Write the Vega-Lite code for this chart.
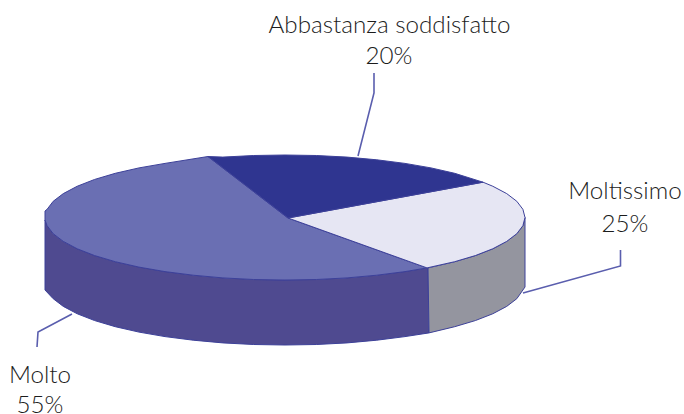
{"$schema":"https://vega.github.io/schema/vega-lite/v6.json","width":684,"height":414,"padding":0,"autosize":"none","background":"white","view":{"stroke":null},
"datasets":{
"shapes":[
{"part":"wall Molto","i":1,"x":45,"y":220},{"part":"wall Molto","i":2,"x":47.1,"y":225.7},{"part":"wall Molto","i":3,"x":53.2,"y":233.7},{"part":"wall Molto","i":4,"x":63.3,"y":241.4},{"part":"wall Molto","i":5,"x":77.2,"y":248.75},{"part":"wall Molto","i":6,"x":94.6,"y":255.55},{"part":"wall Molto","i":7,"x":115.3,"y":261.7},{"part":"wall Molto","i":8,"x":139,"y":267.1},{"part":"wall Molto","i":9,"x":165,"y":271.6},{"part":"wall Molto","i":10,"x":193.2,"y":275.2},{"part":"wall Molto","i":11,"x":222.9,"y":277.9},{"part":"wall Molto","i":12,"x":253.7,"y":279.5},{"part":"wall Molto","i":13,"x":285,"y":280},{"part":"wall Molto","i":14,"x":316.3,"y":279.5},{"part":"wall Molto","i":15,"x":347.1,"y":277.9},{"part":"wall Molto","i":16,"x":376.8,"y":275.2},{"part":"wall Molto","i":17,"x":405,"y":271.6},{"part":"wall Molto","i":18,"x":428,"y":267.9},
{"part":"wall Molto","i":19,"x":429,"y":332.9},{"part":"wall Molto","i":20,"x":405,"y":336.6},{"part":"wall Molto","i":21,"x":376.8,"y":340.2},{"part":"wall Molto","i":22,"x":347.1,"y":342.9},{"part":"wall Molto","i":23,"x":316.3,"y":344.5},{"part":"wall Molto","i":24,"x":285,"y":345},{"part":"wall Molto","i":25,"x":253.7,"y":344.5},{"part":"wall Molto","i":26,"x":222.9,"y":342.9},{"part":"wall Molto","i":27,"x":193.2,"y":340.2},{"part":"wall Molto","i":28,"x":165,"y":336.6},{"part":"wall Molto","i":29,"x":139,"y":332.1},{"part":"wall Molto","i":30,"x":115.3,"y":326.7},{"part":"wall Molto","i":31,"x":94.6,"y":320.55},{"part":"wall Molto","i":32,"x":77.2,"y":313.75},{"part":"wall Molto","i":33,"x":63.3,"y":306.4},{"part":"wall Molto","i":34,"x":53.2,"y":298.7},{"part":"wall Molto","i":35,"x":45,"y":290},
{"part":"wall Moltissimo","i":1,"x":428,"y":267.9},{"part":"wall Moltissimo","i":2,"x":454.7,"y":261.7},{"part":"wall Moltissimo","i":3,"x":475.4,"y":255.55},{"part":"wall Moltissimo","i":4,"x":492.8,"y":248.75},{"part":"wall Moltissimo","i":5,"x":506.7,"y":241.4},{"part":"wall Moltissimo","i":6,"x":516.8,"y":233.7},{"part":"wall Moltissimo","i":7,"x":522.9,"y":225.7},{"part":"wall Moltissimo","i":8,"x":525,"y":217.5},{"part":"wall Moltissimo","i":9,"x":525,"y":287},{"part":"wall Moltissimo","i":10,"x":516.8,"y":298.7},{"part":"wall Moltissimo","i":11,"x":506.7,"y":306.4},{"part":"wall Moltissimo","i":12,"x":492.8,"y":313.75},{"part":"wall Moltissimo","i":13,"x":475.4,"y":320.55},{"part":"wall Moltissimo","i":14,"x":454.7,"y":326.7},{"part":"wall Moltissimo","i":15,"x":429,"y":332.9},
{"part":"top Molto","i":1,"x":288,"y":218},{"part":"top Molto","i":2,"x":427,"y":267.9},{"part":"top Molto","i":3,"x":405,"y":271.6},{"part":"top Molto","i":4,"x":376.8,"y":275.2},{"part":"top Molto","i":5,"x":347.1,"y":277.9},{"part":"top Molto","i":6,"x":316.3,"y":279.5},{"part":"top Molto","i":7,"x":285,"y":280},{"part":"top Molto","i":8,"x":253.7,"y":279.5},{"part":"top Molto","i":9,"x":222.9,"y":277.9},{"part":"top Molto","i":10,"x":193.2,"y":275.2},{"part":"top Molto","i":11,"x":165,"y":271.6},{"part":"top Molto","i":12,"x":139,"y":267.1},{"part":"top Molto","i":13,"x":115.3,"y":261.7},{"part":"top Molto","i":14,"x":94.6,"y":255.55},{"part":"top Molto","i":15,"x":77.2,"y":248.75},{"part":"top Molto","i":16,"x":63.3,"y":241.4},{"part":"top Molto","i":17,"x":53.2,"y":233.7},{"part":"top Molto","i":18,"x":47.1,"y":225.7},{"part":"top Molto","i":19,"x":45,"y":220},{"part":"top Molto","i":20,"x":45,"y":211},{"part":"top Molto","i":21,"x":47.1,"y":209.3},{"part":"top Molto","i":22,"x":53.2,"y":201.3},{"part":"top Molto","i":23,"x":63.3,"y":193.6},{"part":"top Molto","i":24,"x":77.2,"y":186.25},{"part":"top Molto","i":25,"x":94.6,"y":179.45},{"part":"top Molto","i":26,"x":115.3,"y":173.3},{"part":"top Molto","i":27,"x":139,"y":167.9},{"part":"top Molto","i":28,"x":165,"y":163.4},{"part":"top Molto","i":29,"x":208,"y":156.5},
{"part":"top Moltissimo","i":1,"x":288,"y":218},{"part":"top Moltissimo","i":2,"x":483,"y":182.2},{"part":"top Moltissimo","i":3,"x":492.8,"y":186.25},{"part":"top Moltissimo","i":4,"x":506.7,"y":193.6},{"part":"top Moltissimo","i":5,"x":516.8,"y":201.3},{"part":"top Moltissimo","i":6,"x":522.9,"y":209.3},{"part":"top Moltissimo","i":7,"x":525,"y":217.5},{"part":"top Moltissimo","i":8,"x":522.9,"y":225.7},{"part":"top Moltissimo","i":9,"x":516.8,"y":233.7},{"part":"top Moltissimo","i":10,"x":506.7,"y":241.4},{"part":"top Moltissimo","i":11,"x":492.8,"y":248.75},{"part":"top Moltissimo","i":12,"x":475.4,"y":255.55},{"part":"top Moltissimo","i":13,"x":454.7,"y":261.7},{"part":"top Moltissimo","i":14,"x":427,"y":267.9},
{"part":"top Abbastanza","i":1,"x":288,"y":218},{"part":"top Abbastanza","i":2,"x":208,"y":156.5},{"part":"top Abbastanza","i":3,"x":222.9,"y":157.1},{"part":"top Abbastanza","i":4,"x":253.7,"y":155.5},{"part":"top Abbastanza","i":5,"x":285,"y":155},{"part":"top Abbastanza","i":6,"x":316.3,"y":155.5},{"part":"top Abbastanza","i":7,"x":347.1,"y":157.1},{"part":"top Abbastanza","i":8,"x":376.8,"y":159.8},{"part":"top Abbastanza","i":9,"x":405,"y":163.4},{"part":"top Abbastanza","i":10,"x":431,"y":167.9},{"part":"top Abbastanza","i":11,"x":454.7,"y":173.3},{"part":"top Abbastanza","i":12,"x":483,"y":182.2}
],
"leaders":[
{"name":"Abbastanza","i":1,"x":374,"y":73},{"name":"Abbastanza","i":2,"x":374,"y":93},{"name":"Abbastanza","i":3,"x":358,"y":156},
{"name":"Moltissimo","i":1,"x":620.5,"y":250},{"name":"Moltissimo","i":2,"x":620.5,"y":266},{"name":"Moltissimo","i":3,"x":523,"y":293},
{"name":"Molto","i":1,"x":37,"y":347},{"name":"Molto","i":2,"x":38,"y":332},{"name":"Molto","i":3,"x":72,"y":314}
],
"labels":[
{"text":"Abbastanza soddisfatto","x":389.5,"y":33},{"text":"20%","x":389,"y":64},
{"text":"Moltissimo","x":625,"y":199},{"text":"25%","x":625,"y":232},
{"text":"Molto","x":40,"y":383},{"text":"55%","x":40,"y":413}
]},
"layer":[
{"data":{"name":"shapes"},"mark":{"type":"line","interpolate":"linear-closed","stroke":"#3d4199","strokeWidth":1},
"encoding":{"x":{"field":"x","type":"quantitative","scale":{"domain":[0,684]},"axis":null},"y":{"field":"y","type":"quantitative","scale":{"domain":[414,0]},"axis":null},"order":{"field":"i","type":"quantitative"},"detail":{"field":"part"},
"fill":{"field":"part","type":"nominal","legend":null,"scale":{"domain":["wall Molto","wall Moltissimo","top Molto","top Moltissimo","top Abbastanza"],"range":["#4f4a90","#94959f","#6a6fb3","#e6e6f3","#2f3590"]}}}},
{"data":{"name":"leaders"},"mark":{"type":"line","stroke":"#5a5eae","strokeWidth":1.6},
"encoding":{"x":{"field":"x","type":"quantitative","scale":{"domain":[0,684]},"axis":null},"y":{"field":"y","type":"quantitative","scale":{"domain":[414,0]},"axis":null},"order":{"field":"i","type":"quantitative"},"detail":{"field":"name"}}},
{"data":{"name":"labels"},"mark":{"type":"text","font":"Lato","fontWeight":300,"fontSize":24.2,"align":"center","baseline":"alphabetic","color":"#1c1c1c","clip":false},
"encoding":{"x":{"field":"x","type":"quantitative","scale":{"domain":[0,684]},"axis":null},"y":{"field":"y","type":"quantitative","scale":{"domain":[414,0]},"axis":null},"text":{"field":"text"}}}
]}
